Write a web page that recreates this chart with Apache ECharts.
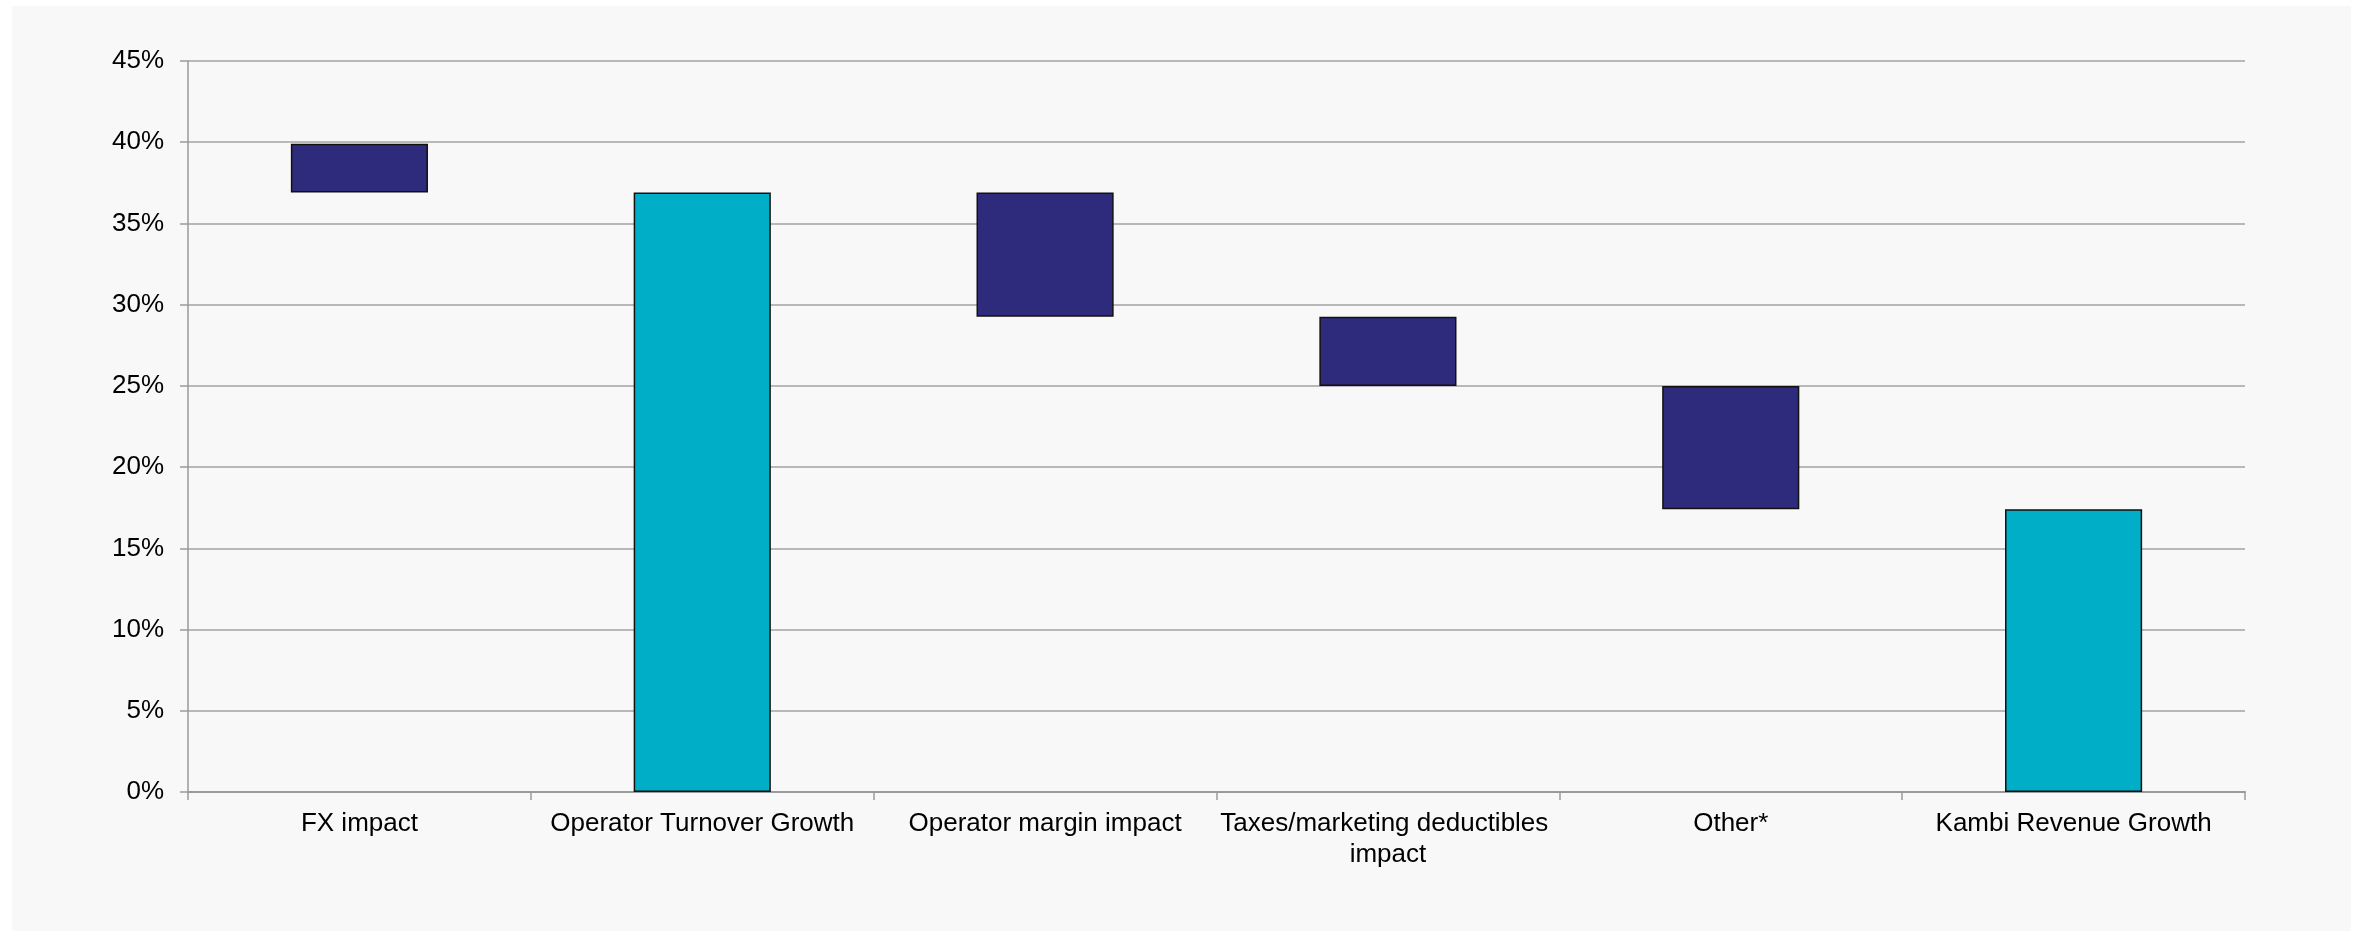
<!DOCTYPE html>
<html>
<head>
<meta charset="utf-8">
<script src="https://cdn.jsdelivr.net/npm/echarts@6/dist/echarts.min.js"></script>
<style>
  html, body { margin: 0; padding: 0; background: #ffffff; }
  #panel { position: absolute; left: 12px; top: 6px; width: 2339px; height: 925px; background: #f8f8f8; }
</style>
</head>
<body>
<div id="panel"></div>
<script>
// Revenue growth bridge (waterfall), values in percent
const categories = ['FX impact', 'Operator Turnover Growth', 'Operator margin impact',
                    'Taxes/marketing deductibles impact', 'Other*', 'Kambi Revenue Growth'];
const rangeLow  = [36.9, 0, 29.25, 25.0, 17.4, 0];
const rangeHigh = [39.9, 36.9, 36.9, 29.25, 25.0, 17.4];
const isTotal   = [false, true, false, false, false, true];
const yTicks    = { min: 0, max: 45, interval: 5 };

const NAVY = '#2e2b7c';
const CYAN = '#00aec7';

const chart = echarts.init(document.getElementById('panel'), null, { renderer: 'canvas' });

const spans = rangeHigh.map((h, i) => ({
  value: +(h - rangeLow[i]).toFixed(4),
  itemStyle: { color: isTotal[i] ? CYAN : NAVY }
}));

chart.setOption({
  backgroundColor: 'transparent',
  animation: false,
  textStyle: { fontFamily: 'Liberation Sans, Arial, sans-serif' },
  grid: { left: 176, right: 106, top: 55, bottom: 139, containLabel: false },
  xAxis: {
    type: 'category',
    data: categories,
    boundaryGap: true,
    axisLine: { show: true, lineStyle: { color: '#9a9a9a', width: 2 } },
    axisTick: { show: true, length: 8, inside: false, lineStyle: { color: '#9a9a9a', width: 1.5 } },
    axisLabel: {
      color: '#000', fontSize: 26, margin: 16, lineHeight: 31,
      width: 340, overflow: 'break', interval: 0
    },
    splitLine: { show: false }
  },
  yAxis: {
    type: 'value',
    min: yTicks.min, max: yTicks.max, interval: yTicks.interval,
    axisLine: { show: true, lineStyle: { color: '#9a9a9a', width: 1.5 } },
    axisTick: { show: true, length: 8, lineStyle: { color: '#9a9a9a', width: 1.5 } },
    axisLabel: { color: '#000', fontSize: 26, margin: 24, formatter: '{value}%' },
    splitLine: { show: true, lineStyle: { color: '#a3a3a3', width: 1.5 } }
  },
  series: [
    {
      name: 'base', type: 'bar', stack: 'bridge', barWidth: '40%',
      data: rangeLow,
      itemStyle: { color: 'transparent', borderWidth: 0 },
      silent: true
    },
    {
      name: 'change', type: 'bar', stack: 'bridge', barWidth: '40%',
      data: spans,
      itemStyle: { borderColor: '#111111', borderWidth: 1.5 }
    }
  ]
});
</script>
</body>
</html>
